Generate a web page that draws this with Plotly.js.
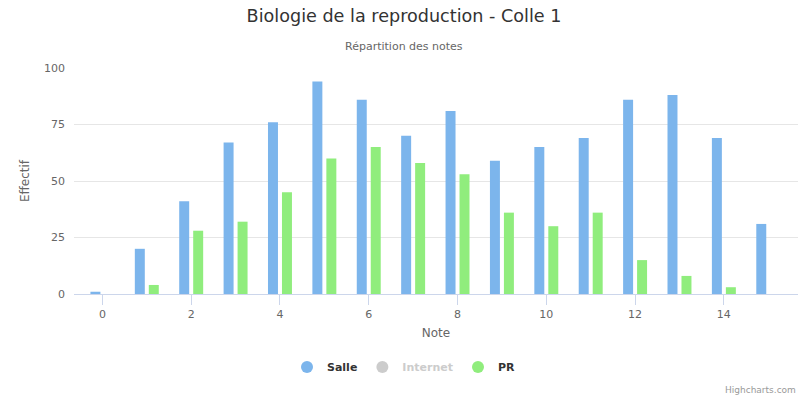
<!DOCTYPE html>
<html><head><meta charset="utf-8">
<script src="https://cdn.plot.ly/plotly-3.0.1.min.js"></script>
<style>html,body{margin:0;padding:0;background:#fff}#c{width:808px;height:398px}</style>
</head><body><div id="c"></div>
<script>
const categories = [0,1,2,3,4,5,6,7,8,9,10,11,12,13,14,15];
const salle = [1,20,41,67,76,94,86,70,81,59,65,69,86,88,69,31];
const internet = [null,null,null,null,null,null,null,null,null,null,null,null,null,null,null,null];
const pr = [0,4,28,32,45,60,65,58,53,36,30,36,15,8,3,0];
const FONT = '"DejaVu Sans", Verdana, sans-serif';

const traces = [
  {type:'bar', x:categories, y:salle, name:'Salle', marker:{color:'#7cb5ec'}, showlegend:false, hoverinfo:'x+y'},
  {type:'bar', x:categories, y:internet, name:'Internet', marker:{color:'#434348'}, visible:false, showlegend:false},
  {type:'bar', x:categories, y:pr, name:'PR', marker:{color:'#90ed7d'}, showlegend:false, hoverinfo:'x+y'},
  {type:'scatter', mode:'markers', x:[null], y:[null], name:'<b>Salle</b>', marker:{color:'#7cb5ec', size:12, symbol:'circle'}},
  {type:'scatter', mode:'markers', x:[null], y:[null], name:'<b><span style="color:#cccccc">Internet</span></b>', marker:{color:'#cccccc', size:12, symbol:'circle'}},
  {type:'scatter', mode:'markers', x:[null], y:[null], name:'<b>PR</b>', marker:{color:'#90ed7d', size:12, symbol:'circle'}}
];

const layout = {
  width:808, height:398,
  margin:{l:74, r:10, t:68, b:104},
  paper_bgcolor:'#fff', plot_bgcolor:'#fff',
  font:{family:FONT, color:'#666', size:11},
  barmode:'group', bargap:0.37, bargroupgap:0.286,
  title:{text:'Biologie de la reproduction - Colle 1', x:0.5, xanchor:'center', xref:'container',
         y:1-16/398, yanchor:'middle', yref:'container', font:{family:FONT, size:17.6, color:'#333333'}},
  annotations:[
    {text:'Répartition des notes', xref:'paper', yref:'paper', x:(404-74)/724, xanchor:'center', y:(294-46)/226, yanchor:'middle',
     showarrow:false, font:{family:FONT, size:11, color:'#666666'}},
    {text:'Highcharts.com', xref:'paper', yref:'paper', x:1, xanchor:'right', y:(294-390)/226, yanchor:'middle',
     showarrow:false, font:{family:FONT, size:9, color:'#999999'}}
  ],
  xaxis:{
    range:[-0.64, 15.67], tickmode:'array', tickvals:[0,2,4,6,8,10,12,14], ticktext:['0','2','4','6','8','10','12','14'],
    ticks:'outside', ticklen:10, tickcolor:'#ccd6eb', tickwidth:1,
    showline:true, linecolor:'#ccd6eb', linewidth:1, showgrid:false, zeroline:false,
    tickfont:{family:FONT, size:11, color:'#666666'},
    title:{text:'Note', font:{family:FONT, size:12, color:'#666666'}, standoff:8},
    fixedrange:true
  },
  yaxis:{
    range:[0,100], tickvals:[0,25,50,75,100], showgrid:true, gridcolor:'#e6e6e6', gridwidth:1,
    zeroline:false, showline:false, ticks:'', ticklabelstandoff:8,
    tickfont:{family:FONT, size:11, color:'#666666'},
    title:{text:'Effectif', font:{family:FONT, size:12, color:'#666666'}, standoff:11},
    fixedrange:true
  },
  legend:{orientation:'h', xref:'container', yref:'container', x:0.5, xanchor:'center', y:1-367/398, yanchor:'middle',
          font:{family:FONT, size:11, color:'#333333'}, bgcolor:'rgba(0,0,0,0)'},
  showlegend:true
};
Plotly.newPlot('c', traces, layout, {displayModeBar:false, staticPlot:true});
</script></body></html>
